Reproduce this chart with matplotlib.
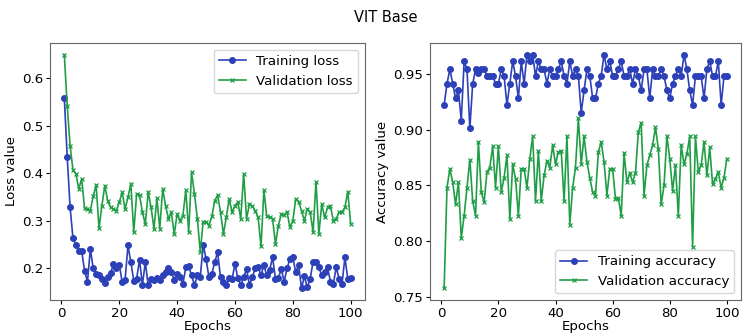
import numpy as np
import matplotlib
matplotlib.use('Agg')
import matplotlib.pyplot as plt

epochs = np.arange(1, 101)

train_loss = [0.558, 0.434, 0.328, 0.263, 0.249, 0.237, 0.237, 0.195, 0.172, 0.240,
              0.200, 0.188, 0.186, 0.178, 0.169, 0.181, 0.190, 0.209, 0.200, 0.208,
              0.171, 0.175, 0.248, 0.213, 0.174, 0.178, 0.218, 0.165, 0.213, 0.164,
              0.178, 0.175, 0.179, 0.175, 0.185, 0.192, 0.200, 0.192, 0.176, 0.188,
              0.181, 0.167, 0.202, 0.204, 0.185, 0.165, 0.185, 0.181, 0.249, 0.220,
              0.181, 0.188, 0.213, 0.234, 0.181, 0.172, 0.165, 0.179, 0.178, 0.209,
              0.179, 0.165, 0.181, 0.199, 0.165, 0.181, 0.200, 0.202, 0.186, 0.206,
              0.185, 0.197, 0.223, 0.178, 0.179, 0.199, 0.172, 0.200, 0.220, 0.223,
              0.192, 0.207, 0.158, 0.183, 0.160, 0.178, 0.214, 0.213, 0.202, 0.185,
              0.192, 0.202, 0.172, 0.167, 0.202, 0.178, 0.167, 0.223, 0.178, 0.179]

val_loss = [0.649, 0.541, 0.458, 0.406, 0.399, 0.367, 0.388, 0.326, 0.324, 0.321,
            0.352, 0.375, 0.284, 0.332, 0.374, 0.342, 0.328, 0.325, 0.321, 0.339,
            0.360, 0.325, 0.349, 0.378, 0.276, 0.356, 0.354, 0.318, 0.293, 0.360,
            0.328, 0.283, 0.347, 0.283, 0.367, 0.332, 0.304, 0.318, 0.272, 0.314,
            0.300, 0.311, 0.364, 0.276, 0.402, 0.356, 0.304, 0.234, 0.298, 0.298,
            0.290, 0.309, 0.342, 0.354, 0.318, 0.272, 0.307, 0.346, 0.318, 0.332,
            0.339, 0.304, 0.399, 0.304, 0.335, 0.331, 0.321, 0.307, 0.246, 0.364,
            0.309, 0.307, 0.304, 0.251, 0.290, 0.314, 0.312, 0.319, 0.286, 0.300,
            0.346, 0.340, 0.321, 0.300, 0.325, 0.318, 0.276, 0.382, 0.272, 0.335,
            0.307, 0.328, 0.331, 0.300, 0.304, 0.318, 0.318, 0.328, 0.361, 0.293]

train_acc = [0.922, 0.941, 0.954, 0.941, 0.928, 0.935, 0.908, 0.961, 0.954, 0.901,
             0.941, 0.954, 0.951, 0.954, 0.954, 0.948, 0.948, 0.948, 0.941, 0.941,
             0.954, 0.948, 0.922, 0.941, 0.961, 0.948, 0.928, 0.961, 0.941, 0.967,
             0.961, 0.967, 0.948, 0.961, 0.954, 0.954, 0.941, 0.954, 0.948, 0.948,
             0.954, 0.961, 0.948, 0.941, 0.961, 0.948, 0.954, 0.948, 0.915, 0.935,
             0.954, 0.948, 0.928, 0.928, 0.941, 0.948, 0.967, 0.954, 0.961, 0.948,
             0.948, 0.954, 0.961, 0.948, 0.948, 0.954, 0.941, 0.954, 0.948, 0.935,
             0.954, 0.954, 0.928, 0.954, 0.948, 0.948, 0.954, 0.948, 0.935, 0.928,
             0.941, 0.948, 0.954, 0.948, 0.967, 0.954, 0.935, 0.922, 0.948, 0.948,
             0.948, 0.928, 0.954, 0.961, 0.948, 0.948, 0.961, 0.922, 0.948, 0.948]

val_acc = [0.758, 0.848, 0.865, 0.853, 0.833, 0.853, 0.803, 0.823, 0.848, 0.873,
           0.836, 0.823, 0.889, 0.844, 0.835, 0.862, 0.866, 0.885, 0.848, 0.885,
           0.844, 0.857, 0.877, 0.820, 0.869, 0.856, 0.823, 0.865, 0.865, 0.848,
           0.874, 0.894, 0.836, 0.881, 0.836, 0.859, 0.872, 0.866, 0.886, 0.869,
           0.880, 0.881, 0.836, 0.894, 0.815, 0.848, 0.866, 0.910, 0.869, 0.894,
           0.871, 0.857, 0.844, 0.841, 0.880, 0.889, 0.871, 0.841, 0.865, 0.865,
           0.838, 0.839, 0.823, 0.879, 0.853, 0.861, 0.853, 0.861, 0.898, 0.906,
           0.841, 0.868, 0.877, 0.886, 0.902, 0.883, 0.833, 0.850, 0.894, 0.874,
           0.845, 0.868, 0.823, 0.886, 0.869, 0.878, 0.894, 0.795, 0.894, 0.862,
           0.868, 0.889, 0.859, 0.884, 0.851, 0.856, 0.862, 0.848, 0.857, 0.874]

blue = '#2c40b8'
green = '#1f9e45'
fs = 9.6

plt.rcParams['font.size'] = fs
plt.rcParams['axes.edgecolor'] = '#666666'

fig = plt.figure(figsize=(7.43, 3.35), dpi=100)
ax1 = fig.add_axes([50 / 743, 35 / 335, 315 / 743, 257 / 335])
ax2 = fig.add_axes([430 / 743, 35 / 335, 311 / 743, 257 / 335])

ax1.plot(epochs, train_loss, color=blue, marker='o', markersize=4, linewidth=1.2, label='Training loss')
ax1.plot(epochs, val_loss, color=green, marker='x', markersize=3, markeredgewidth=0.9, linewidth=1.2, label='Validation loss')
ax1.set_xlabel('Epochs', labelpad=0)
ax1.set_ylabel('Loss value', labelpad=3)
ax1.legend(loc='upper right', fontsize=fs)

ax2.plot(epochs, train_acc, color=blue, marker='o', markersize=4, linewidth=1.2, label='Training accuracy')
ax2.plot(epochs, val_acc, color=green, marker='x', markersize=3, markeredgewidth=0.9, linewidth=1.2, label='Validation accuracy')
ax2.set_xlabel('Epochs', labelpad=0)
ax2.set_ylabel('Accuracy value', labelpad=3)
ax2.legend(loc='lower right', fontsize=fs)

for ax in (ax1, ax2):
    ax.set_xticks([0, 20, 40, 60, 80, 100])
    ax.tick_params(labelsize=fs, length=3, pad=2)

fig.text(386 / 743, 1 - 18 / 335, 'VIT Base', ha='center', va='center', fontsize=10.5)

plt.savefig('out.png', dpi=100)
